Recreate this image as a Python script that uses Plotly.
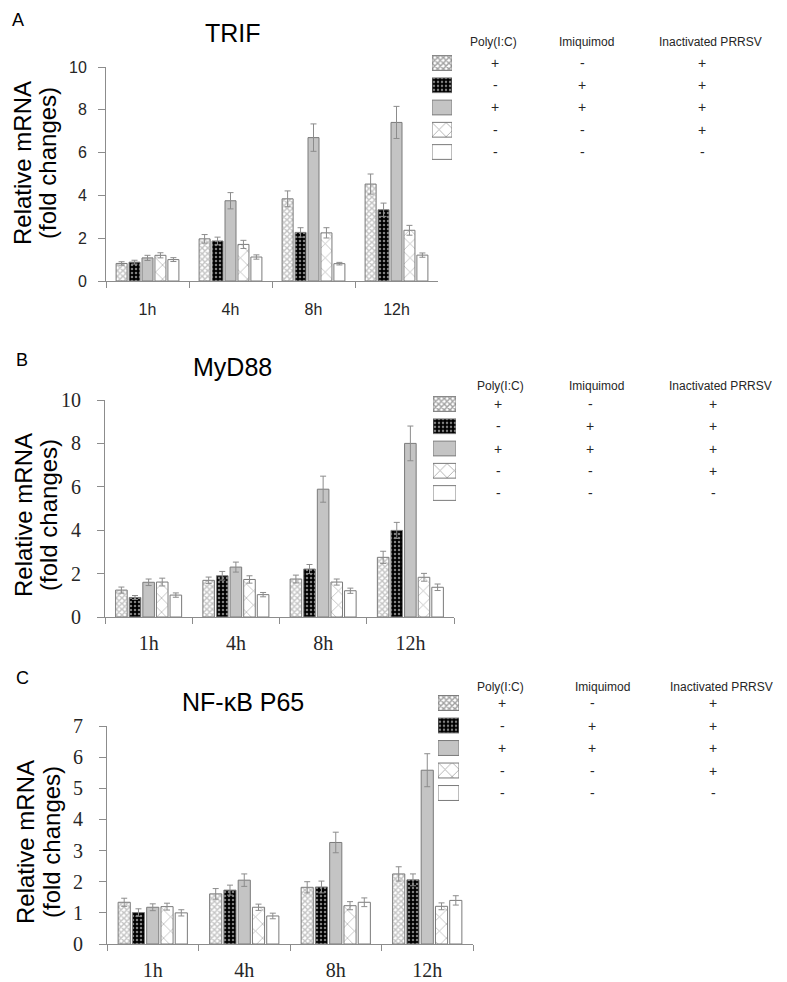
import plotly.graph_objects as go

# la página añade 8 px de margen al cuerpo: la figura se desplaza 8 px
OFF = 8
W, H = 779, 974

tiempos = ["1h", "4h", "8h", "12h"]
grupos = ["g1", "g2", "g3", "g4", "g5"]

# legend table (+/-) per treatment group
poly_ic = ["+", "-", "+", "-", "-"]
imiquimod = ["-", "+", "+", "-", "-"]
prrsv = ["+", "+", "+", "+", "-"]
cabeceras = ["Poly(I:C)", "Imiquimod", "Inactivated PRRSV"]
titulo_y = ["Relative mRNA", "(fold changes)"]

# ---- TRIF ----
trif = [
    [0.82, 1.97, 3.84, 4.53],
    [0.88, 1.87, 2.27, 3.33],
    [1.08, 3.75, 6.70, 7.41],
    [1.20, 1.71, 2.25, 2.37],
    [1.00, 1.12, 0.81, 1.21],
]
trif_err = [
    [0.08, 0.20, 0.37, 0.47],
    [0.09, 0.18, 0.22, 0.31],
    [0.12, 0.38, 0.64, 0.75],
    [0.12, 0.19, 0.24, 0.23],
    [0.09, 0.10, 0.06, 0.10],
]

# ---- MyD88 ----
myd88 = [
    [1.24, 1.69, 1.75, 2.75],
    [0.90, 1.90, 2.21, 3.99],
    [1.60, 2.30, 5.89, 8.00],
    [1.61, 1.73, 1.61, 1.83],
    [1.01, 1.03, 1.21, 1.37],
]
myd88_err = [
    [0.14, 0.15, 0.18, 0.28],
    [0.09, 0.20, 0.21, 0.37],
    [0.15, 0.23, 0.60, 0.80],
    [0.18, 0.17, 0.14, 0.18],
    [0.10, 0.10, 0.12, 0.15],
]

# ---- NF-kB P65 ----
p65 = [
    [1.34, 1.61, 1.82, 2.25],
    [1.01, 1.73, 1.83, 2.06],
    [1.18, 2.05, 3.26, 5.58],
    [1.20, 1.18, 1.23, 1.21],
    [1.00, 0.90, 1.34, 1.40],
]
p65_err = [
    [0.13, 0.17, 0.18, 0.23],
    [0.12, 0.16, 0.19, 0.19],
    [0.11, 0.20, 0.33, 0.53],
    [0.11, 0.10, 0.13, 0.11],
    [0.10, 0.09, 0.14, 0.15],
]

# estilos de relleno de cada grupo
estilos = [
    dict(color="white", pattern=dict(shape="x", fgcolor="#8a8a8a", bgcolor="white", size=4, solidity=0.6)),
    dict(color="black", pattern=dict(shape=".", fgcolor="white", bgcolor="black", size=4, solidity=0.3)),
    dict(color="#c4c4c4"),
    dict(color="white", pattern=dict(shape="x", fgcolor="#707070", bgcolor="white", size=10, solidity=0.15)),
    dict(color="white"),
]
swatch_pattern = dict(
    shape=["x", ".", "", "x", ""],
    fgcolor=["#8a8a8a", "white", "#c4c4c4", "#707070", "white"],
    bgcolor=["white", "black", "#c4c4c4", "white", "white"],
    size=[4, 4, 4, 10, 4],
    solidity=[0.6, 0.3, 0.3, 0.15, 0.3],
)


def px_x(v):
    return (v - OFF) / W


def px_y(v):
    return 1 - (v - OFF) / H


paneles = [
    dict(datos=trif, err=trif_err, titulo="TRIF", letra="A", ymax=10, dtick=2,
         xdom=(106, 438), ydom=(67, 281), tickfont="Liberation Sans", tfsize=16,
         xstand=14, ystand=8, tit_xy=(233, 33), let_xy=(18, 20), ytit_x=(23, 48), ytit_y=163,
         leg_x=(432, 452), leg_rows=(63, 152), head_y=42,
         head_x=(493, 586, 710), sign_x=(495, 582, 702)),
    dict(datos=myd88, err=myd88_err, titulo="MyD88", letra="B", ymax=10, dtick=2,
         xdom=(105, 454), ydom=(400, 617), tickfont="Liberation Serif", tfsize=20,
         xstand=8, ystand=12, tit_xy=(232, 367), let_xy=(22, 360), ytit_x=(23, 48), ytit_y=515,
         leg_x=(433, 456), leg_rows=(404, 493), head_y=386,
         head_x=(500, 596, 720), sign_x=(498, 590, 713)),
    dict(datos=p65, err=p65_err, titulo="NF-κB P65", letra="C", ymax=7, dtick=1,
         xdom=(107, 473), ydom=(726, 944), tickfont="Liberation Serif", tfsize=20,
         xstand=8, ystand=12, tit_xy=(243, 702), let_xy=(22, 678), ytit_x=(25, 51), ytit_y=842,
         leg_x=(438, 459), leg_rows=(703, 793), head_y=687,
         head_x=(500, 602, 721), sign_x=(502, 592, 713)),
]

fig = go.Figure()
layout_ext = {}
anotaciones = []
txt = "#262626"
gris = "#8c8c8c"

for k, p in enumerate(paneles):
    n = k + 1
    sx = "" if n == 1 else str(n)
    for g in range(5):
        fig.add_trace(go.Bar(
            x=tiempos, y=p["datos"][g],
            error_y=dict(type="data", array=p["err"][g], color=gris, thickness=1, width=3),
            marker=dict(line=dict(color="#7a7a7a", width=1), **estilos[g]),
            xaxis="x" + sx, yaxis="y" + sx, showlegend=False,
        ))
    layout_ext["xaxis" + sx] = dict(
        domain=[px_x(p["xdom"][0]), px_x(p["xdom"][1])], anchor="y" + sx,
        type="category", tickson="boundaries", ticks="outside", ticklen=6,
        tickcolor=gris, showline=True, linecolor=gris, linewidth=1,
        showgrid=False, zeroline=False, ticklabelstandoff=p["xstand"],
        tickfont=dict(family=p["tickfont"], size=p["tfsize"], color=txt),
    )
    layout_ext["yaxis" + sx] = dict(
        domain=[px_y(p["ydom"][1]), px_y(p["ydom"][0])], anchor="x" + sx,
        range=[0, p["ymax"]], dtick=p["dtick"], ticks="outside", ticklen=7,
        tickcolor=gris, showline=True, linecolor=gris, linewidth=1,
        showgrid=False, zeroline=False, ticklabelstandoff=p["ystand"],
        tickfont=dict(family=p["tickfont"], size=p["tfsize"], color=txt),
    )

    # leyenda: muestras de relleno en un eje propio
    lx = str(n + 3)
    fig.add_trace(go.Bar(
        x=[1] * 5, y=grupos, orientation="h",
        marker=dict(color=swatch_pattern["bgcolor"], line=dict(color="#7a7a7a", width=1),
                    pattern=swatch_pattern),
        xaxis="x" + lx, yaxis="y" + lx, showlegend=False, hoverinfo="skip",
    ))
    paso = (p["leg_rows"][1] - p["leg_rows"][0]) / 4
    top = p["leg_rows"][0] - paso / 2
    bot = p["leg_rows"][1] + paso / 2
    layout_ext["xaxis" + lx] = dict(domain=[px_x(p["leg_x"][0]), px_x(p["leg_x"][1])],
                                    anchor="y" + lx, range=[0, 1], visible=False)
    layout_ext["yaxis" + lx] = dict(domain=[px_y(bot), px_y(top)], anchor="x" + lx,
                                    autorange="reversed", visible=False)

    for col, signos in enumerate([poly_ic, imiquimod, prrsv]):
        anotaciones.append(dict(
            x=px_x(p["head_x"][col]), y=px_y(p["head_y"]), xref="paper", yref="paper",
            text=cabeceras[col], showarrow=False, xanchor="center", yanchor="middle",
            font=dict(family="Liberation Sans", size=12, color=txt),
        ))
        for r, s in enumerate(signos):
            anotaciones.append(dict(
                x=px_x(p["sign_x"][col]), y=grupos[r], xref="paper", yref="y" + lx,
                text=s, showarrow=False, xanchor="center", yanchor="middle",
                font=dict(family="Liberation Sans", size=14, color=txt),
            ))

    anotaciones.append(dict(
        x=px_x(p["tit_xy"][0]), y=px_y(p["tit_xy"][1]), xref="paper", yref="paper",
        text=p["titulo"], showarrow=False, xanchor="center", yanchor="middle",
        font=dict(family="Liberation Sans", size=25, color="black"),
    ))
    anotaciones.append(dict(
        x=px_x(p["let_xy"][0]), y=px_y(p["let_xy"][1]), xref="paper", yref="paper",
        text=p["letra"], showarrow=False, xanchor="center", yanchor="middle",
        font=dict(family="Liberation Sans", size=18, color="black"),
    ))
    # título del eje y en dos líneas separadas
    for i, linea in enumerate(titulo_y):
        anotaciones.append(dict(
            x=px_x(p["ytit_x"][i]), y=px_y(p["ytit_y"]), xref="paper", yref="paper",
            text=linea, showarrow=False, textangle=-90,
            xanchor="center", yanchor="middle",
            font=dict(family="Liberation Sans", size=24, color="black"),
        ))

fig.update_layout(
    width=W, height=H,
    margin=dict(l=0, r=0, t=0, b=0, pad=0, autoexpand=False),
    paper_bgcolor="white", plot_bgcolor="white",
    barmode="group", bargap=0.22, bargroupgap=0.15,
    annotations=anotaciones,
    **layout_ext,
)

fig.write_html("out.html")
